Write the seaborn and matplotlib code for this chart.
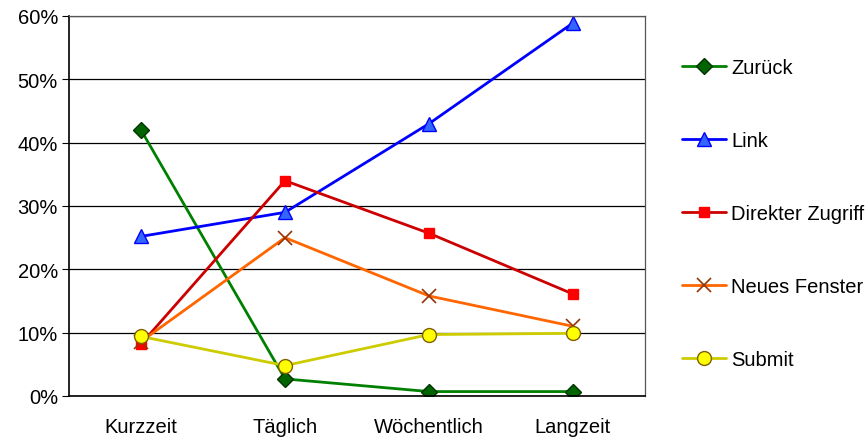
import pandas as pd
import matplotlib
matplotlib.use("Agg")
import matplotlib.pyplot as plt
import seaborn as sns

# Daten
kategorien = ["Kurzzeit", "Täglich", "Wöchentlich", "Langzeit"]
zurueck = [42.0, 2.7, 0.7, 0.7]
link = [25.2, 29.0, 43.0, 58.9]
direkter_zugriff = [8.2, 34.0, 25.7, 16.1]
neues_fenster = [8.6, 25.0, 15.8, 11.0]
submit = [9.4, 4.8, 9.7, 9.9]
y_ticks = [0, 10, 20, 30, 40, 50, 60]

serien = {
    "Zurück": zurueck,
    "Link": link,
    "Direkter Zugriff": direkter_zugriff,
    "Neues Fenster": neues_fenster,
    "Submit": submit,
}

# Stil je Serie: Linienfarbe, Marker, Füllung, Rand, Größe
stile = {
    "Zurück": dict(color="#008000", marker="D", mfc="#006400", mec="#003300", ms=8),
    "Link": dict(color="#0000FF", marker="^", mfc="#3366FF", mec="#0000FF", ms=10),
    "Direkter Zugriff": dict(color="#CC0000", marker="s", mfc="#FF0000", mec="#FF0000", ms=7),
    "Neues Fenster": dict(color="#FF6600", marker="x", mfc="none", mec="#993300", ms=10),
    "Submit": dict(color="#CCCC00", marker="o", mfc="#FFFF00", mec="#806000", ms=10),
}

df = pd.DataFrame(
    [
        {"serie": name, "pos": i, "wert": v}
        for name, werte in serien.items()
        for i, v in enumerate(werte)
    ]
)

sns.set_style("white")
plt.rcParams["font.family"] = ["Liberation Sans", "DejaVu Sans"]
plt.rcParams["text.color"] = "black"
plt.rcParams["xtick.color"] = "black"
plt.rcParams["ytick.color"] = "black"

fig = plt.figure(figsize=(8.65, 4.39), dpi=100)
ax = fig.add_axes([69 / 865, 42 / 439, 576 / 865, 380 / 439])

for name in serien:
    s = stile[name]
    teil = df[df["serie"] == name]
    sns.lineplot(
        data=teil, x="pos", y="wert", ax=ax, color=s["color"], linewidth=2,
        marker=s["marker"], markerfacecolor=s["mfc"], markeredgecolor=s["mec"],
        markersize=s["ms"], markeredgewidth=1.0 if s["marker"] != "x" else 1.2,
        label=name, legend=False,
    )

ax.set_xlim(-0.5, 3.5)
ax.set_ylim(0, 60)
ax.set_yticks(y_ticks)
ax.set_yticklabels([f"{t}%" for t in y_ticks], fontsize=14.5)
ax.set_xticks(range(len(kategorien)))
ax.set_xticklabels(kategorien, fontsize=14.5)
ax.set_xticks([-0.5, 0.5, 1.5, 2.5, 3.5], minor=True)
ax.tick_params(axis="x", which="major", length=0, pad=15)
ax.tick_params(axis="x", which="minor", length=5, direction="out", color="black")
ax.tick_params(axis="y", length=5, direction="out", color="black", left=True, pad=3)
ax.set_xlabel("")
ax.set_ylabel("")
ax.yaxis.grid(True, color="black", linewidth=0.9)
ax.set_axisbelow(True)
for seite in ["left", "bottom"]:
    ax.spines[seite].set_color("black")
    ax.spines[seite].set_linewidth(1.2)
for seite in ["top", "right"]:
    ax.spines[seite].set_color("#555555")
    ax.spines[seite].set_linewidth(0.9)

handles, labels = ax.get_legend_handles_labels()
fig.legend(
    handles, labels, loc="upper left", bbox_to_anchor=(674 / 865, 1 - 51 / 439),
    frameon=False, fontsize=14.5, labelspacing=2.68, handlelength=2.2,
    handletextpad=0.25, borderaxespad=0,
)

fig.savefig("out.png", dpi=100)
